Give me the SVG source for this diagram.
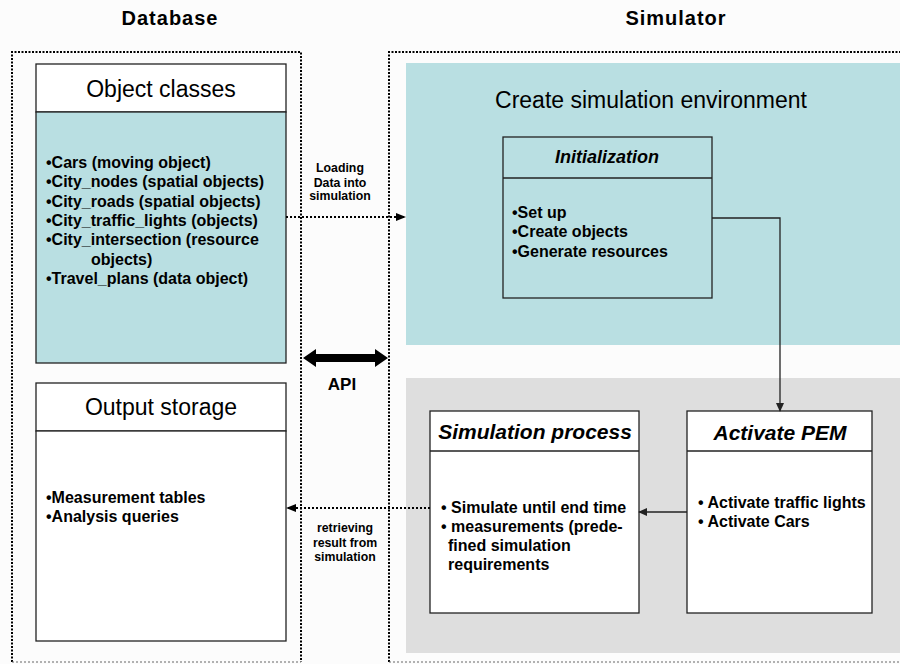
<svg xmlns="http://www.w3.org/2000/svg" width="900" height="664" viewBox="0 0 900 664">
<defs>
<style>
text{font-family:"Liberation Sans",Arial,sans-serif;fill:#000}
.hdr{font-size:20px;font-weight:bold;text-anchor:middle;letter-spacing:1px}
.ttl{font-size:23px;text-anchor:middle}
.it{font-weight:bold;font-style:italic;text-anchor:middle}
.b{font-size:16px;font-weight:bold}
.sm{font-size:12.3px;font-weight:bold;text-anchor:middle}
.box{stroke:#222;stroke-width:1.3}
.frame{fill:none;stroke:#000;stroke-width:2;stroke-dasharray:2 1.5}
.frameb{fill:none;stroke:#666;stroke-width:1;stroke-dasharray:2 2}
.dot{fill:none;stroke:#000;stroke-width:2;stroke-dasharray:2 2}
.ln{fill:none;stroke:#222;stroke-width:1.3}
</style>
<marker id="ah" markerWidth="10" markerHeight="8" refX="9" refY="4" orient="auto" markerUnits="userSpaceOnUse">
<path d="M0,0 L10,4 L0,8 z" fill="#000"/>
</marker>
<marker id="ah2" markerWidth="9" markerHeight="8" refX="8" refY="4" orient="auto" markerUnits="userSpaceOnUse">
<path d="M0,0 L9,4 L0,8 z" fill="#222"/>
</marker>
</defs>
<rect width="900" height="664" fill="#fcfcfc"/>

<text class="hdr" x="170" y="25">Database</text>
<text class="hdr" x="676" y="25">Simulator</text>

<g id="database-frame">
<path class="frame" d="M12,662 V52 H301 V662"/>
<path class="frameb" d="M12,662 H301"/>
</g>
<g id="simulator-frame">
<path class="frame" d="M389,662 V52 H900"/>
<path class="frameb" d="M389,662 H900"/>
</g>

<g id="create-env">
<rect x="406" y="63" width="494" height="282" fill="#b9dfe2"/>
<text class="ttl" x="651" y="108">Create simulation environment</text>
</g>
<rect id="run-panel" x="406" y="378" width="494" height="275" fill="#dedede"/>

<g id="object-classes">
<rect class="box" x="36" y="64" width="250" height="48" fill="#fff"/>
<rect class="box" x="36" y="112" width="250" height="251" fill="#b9dfe2"/>
<text class="ttl" x="161" y="97">Object classes</text>
<text class="b" x="46" y="168">•Cars (moving object)</text>
<text class="b" x="46" y="187">•City_nodes (spatial objects)</text>
<text class="b" x="46" y="207">•City_roads (spatial objects)</text>
<text class="b" x="46" y="226">•City_traffic_lights (objects)</text>
<text class="b" x="46" y="245">•City_intersection (resource</text>
<text class="b" x="91" y="265">objects)</text>
<text class="b" x="46" y="284">•Travel_plans (data object)</text>
</g>

<g id="output-storage">
<rect class="box" x="36" y="383" width="250" height="48" fill="#fff"/>
<rect class="box" x="36" y="431" width="250" height="210" fill="#fff"/>
<text class="ttl" x="161" y="415">Output storage</text>
<text class="b" x="46" y="503">•Measurement tables</text>
<text class="b" x="46" y="522">•Analysis queries</text>
</g>

<g id="initialization">
<rect class="box" x="503" y="137" width="209" height="161" fill="#b9dfe2"/>
<line class="ln" x1="503" y1="178" x2="712" y2="178"/>
<text class="it" x="607" y="163" font-size="18">Initialization</text>
<text class="b" x="512" y="218">•Set up</text>
<text class="b" x="512" y="237">•Create objects</text>
<text class="b" x="512" y="257">•Generate resources</text>
</g>

<g id="simulation-process">
<rect class="box" x="430" y="411" width="209" height="202" fill="#fff"/>
<line class="ln" x1="430" y1="451" x2="639" y2="451"/>
<text class="it" x="535" y="439" font-size="21">Simulation process</text>
<text class="b" x="441" y="513">• Simulate until end time</text>
<text class="b" x="441" y="532">• measurements (prede-</text>
<text class="b" x="448" y="551">fined simulation</text>
<text class="b" x="448" y="570">requirements</text>
</g>

<g id="activate-pem">
<rect class="box" x="687" y="411" width="185" height="202" fill="#fff"/>
<line class="ln" x1="687" y1="451" x2="872" y2="451"/>
<text class="it" x="780" y="440" font-size="21">Activate PEM</text>
<text class="b" x="698" y="508">• Activate traffic lights</text>
<text class="b" x="698" y="527">• Activate Cars</text>
</g>

<g id="connectors">
<line class="dot" x1="286" y1="217" x2="405" y2="217" marker-end="url(#ah)"/>
<text class="sm" x="340" y="172">Loading</text>
<text class="sm" x="340" y="187">Data into</text>
<text class="sm" x="340" y="200">simulation</text>

<path d="M303,358 L316,349 L316,354 L375,354 L375,349 L388,358 L375,367 L375,362 L316,362 L316,367 Z" fill="#000"/>
<text x="342" y="390" font-size="17" font-weight="bold" text-anchor="middle">API</text>

<polyline class="ln" points="712,218 780,218 780,411" marker-end="url(#ah2)"/>
<line class="ln" x1="687" y1="512" x2="639" y2="512" marker-end="url(#ah2)"/>

<line class="dot" x1="430" y1="508" x2="287" y2="508" marker-end="url(#ah)"/>
<text class="sm" x="345" y="532">retrieving</text>
<text class="sm" x="345" y="547">result from</text>
<text class="sm" x="345" y="561">simulation</text>
</g>
</svg>
